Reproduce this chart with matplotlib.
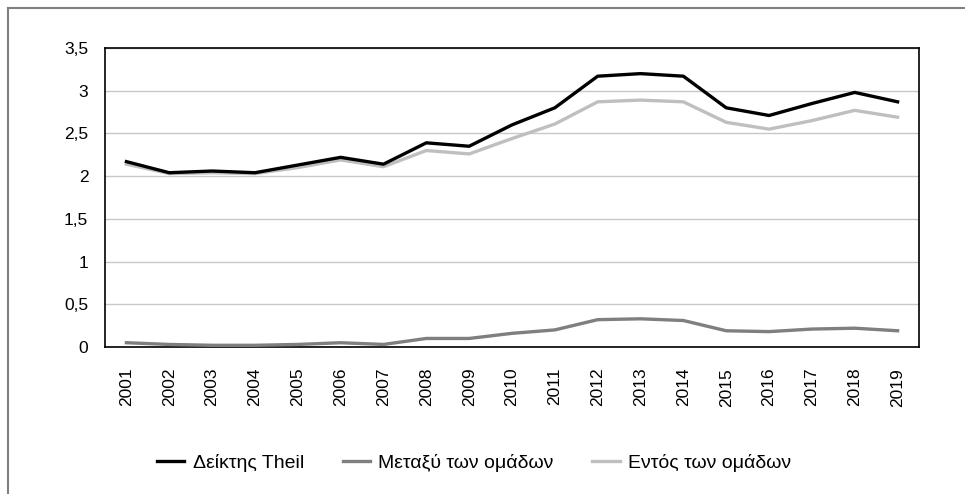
import matplotlib
matplotlib.use("Agg")
import matplotlib.pyplot as plt
from matplotlib.lines import Line2D
from matplotlib.ticker import FuncFormatter

years = [str(y) for y in range(2001, 2020)]
theil = [2.17, 2.04, 2.06, 2.04, 2.13, 2.22, 2.14, 2.39, 2.35, 2.60, 2.80,
         3.17, 3.20, 3.17, 2.80, 2.71, 2.85, 2.98, 2.87]
between = [0.05, 0.03, 0.02, 0.02, 0.03, 0.05, 0.03, 0.10, 0.10, 0.16, 0.20,
           0.32, 0.33, 0.31, 0.19, 0.18, 0.21, 0.22, 0.19]
within = [2.14, 2.03, 2.04, 2.03, 2.10, 2.19, 2.11, 2.30, 2.26, 2.44, 2.61,
          2.87, 2.89, 2.87, 2.63, 2.55, 2.65, 2.77, 2.69]
labels = ["Δείκτης Theil", "Μεταξύ των ομάδων", "Εντός των ομάδων"]
yticks = [0, 0.5, 1, 1.5, 2, 2.5, 3, 3.5]

plt.rcParams['font.family'] = ['Liberation Sans', 'DejaVu Sans']

W, H = 965, 494
fig = plt.figure(figsize=(W / 100, H / 100), dpi=100)
ax = fig.add_axes([105 / W, 1 - 347 / H, (919 - 105) / W, (347 - 48) / H])

x = list(range(len(years)))
lw = 2.4
ax.plot(x, theil, color="#000000", lw=lw, label=labels[0], zorder=4)
ax.plot(x, between, color="#7f7f7f", lw=lw, label=labels[1], zorder=3)
ax.plot(x, within, color="#bfbfbf", lw=lw, label=labels[2], zorder=2)

ax.set_xlim(-0.5, len(years) - 0.5)
ax.set_ylim(0, 3.5)
ax.set_xticks(x)
ax.set_xticklabels(years, rotation=90, fontsize=12.5)
ax.set_yticks(yticks)
ax.yaxis.set_major_formatter(FuncFormatter(lambda v, p: ("%g" % v).replace(".", ",")))
ax.tick_params(axis="y", labelsize=12.5, length=0, pad=12)
ax.tick_params(axis="x", length=0, pad=15)
ax.grid(axis="y", color="#c8c8c8", lw=1)
ax.set_axisbelow(True)
for s in ax.spines.values():
    s.set_color("black")
    s.set_linewidth(1.2)

fig.legend(loc="center", bbox_to_anchor=(474 / W, 1 - 463 / H), ncol=3, frameon=False,
           fontsize=14, handlelength=1.4, handletextpad=0.42, columnspacing=2.0)

fig.add_artist(Line2D([8 / W, 1], [1 - 8 / H, 1 - 8 / H], color="#808080", lw=1.5,
                      transform=fig.transFigure))
fig.add_artist(Line2D([8 / W, 8 / W], [0, 1 - 8 / H], color="#808080", lw=1.5,
                      transform=fig.transFigure))

fig.savefig("out.png", dpi=100)
